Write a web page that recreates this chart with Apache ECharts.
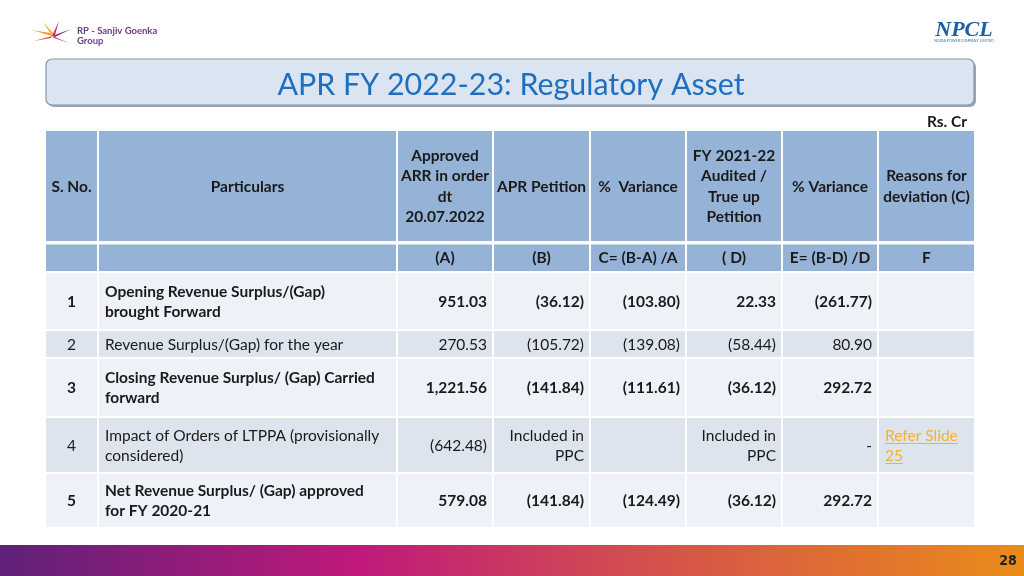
<!DOCTYPE html>
<html><head><meta charset="utf-8">
<script src="https://cdn.jsdelivr.net/npm/echarts@6/dist/echarts.min.js"></script>
<style>html,body{margin:0;padding:0;background:#fff}#c{width:1024px;height:576px}</style>
</head><body><div id="c"></div>
<script>
// ---- data ----
const headerLabels = ["S. No.", "Particulars", "Approved\nARR in order\ndt\n20.07.2022", "APR Petition", "%  Variance", "FY 2021-22\nAudited /\nTrue up\nPetition", "% Variance", "Reasons for\ndeviation (C)"];
const subHeaderLabels = ["", "", "(A)", "(B)", "C= (B-A) /A", "( D)", "E= (B-D) /D", "F"];
const serialNos = ["1", "2", "3", "4", "5"];
const particulars = [
  "Opening Revenue Surplus/(Gap)\nbrought Forward",
  "Revenue Surplus/(Gap) for the year",
  "Closing Revenue Surplus/ (Gap) Carried\nforward",
  "Impact of Orders of LTPPA (provisionally\nconsidered)",
  "Net Revenue Surplus/ (Gap) approved\nfor FY 2020-21"
];
const approvedA = ["951.03", "270.53", "1,221.56", "(642.48)", "579.08"];
const aprPetitionB = ["(36.12)", "(105.72)", "(141.84)", "Included in\nPPC", "(141.84)"];
const varianceC = ["(103.80)", "(139.08)", "(111.61)", "", "(124.49)"];
const trueUpD = ["22.33", "(58.44)", "(36.12)", "Included in\nPPC", "(36.12)"];
const varianceE = ["(261.77)", "80.90", "292.72", "-", "292.72"];
const reasonsF = ["", "", "", "Refer Slide\n25", ""];
const boldRows = [true, false, true, false, true];

// ---- layout (table units) ----
const colEdges = [0, 53, 352, 448, 545, 641, 737, 833, 930];
const rowEdges = [0, 112, 142, 200, 228, 287, 343, 398];
const FONT = 'Lato, "Open Sans", sans-serif';
const FS = 15.5;

const rowsData = [serialNos, particulars, approvedA, aprPetitionB, varianceC, trueUpD, varianceE, reasonsF];
const cells = [];
for (let r = 0; r < 7; r++) for (let c = 0; c < 8; c++) cells.push([c, r]);

function cellText(c, r) {
  if (r === 0) return headerLabels[c];
  if (r === 1) return subHeaderLabels[c];
  return rowsData[c][r - 2];
}
const mctx = document.createElement('canvas').getContext('2d');

function renderItem(params, api) {
  const c = api.value(0), r = api.value(1);
  const p0 = api.coord([colEdges[c], rowEdges[r]]);
  const p1 = api.coord([colEdges[c + 1], rowEdges[r + 1]]);
  const x = p0[0], y = p0[1], w = p1[0] - p0[0], h = p1[1] - p0[1];
  let fill;
  if (r < 2) fill = '#95b3d7';
  else fill = ((r - 2) % 2 === 0) ? '#eef2f8' : '#dde4ee';
  const gapTop = (r === 1) ? 2.5 : 1;
  const children = [{
    type: 'rect',
    shape: { x: x + 1, y: y + gapTop, width: w - 2, height: h - gapTop - 1 },
    style: { fill: fill }
  }];
  const txt = cellText(c, r);
  if (txt) {
    const header = r < 2;
    const bold = header || boldRows[r - 2];
    const font = (bold ? 'bold ' : '') + FS + 'px ' + FONT;
    let align, tx;
    if (header || c === 0) { align = 'center'; tx = x + w / 2; }
    else if (c === 1 || c === 7) { align = 'left'; tx = x + 7; }
    else { align = 'right'; tx = x + w - 6; }
    const link = (c === 7 && !header);
    const fillc = link ? '#f2b233' : '#1a1a1a';
    const cy = y + (h + gapTop - 1) / 2 + 0.5;
    children.push({
      type: 'text',
      style: {
        text: txt, x: tx, y: cy, align: align, verticalAlign: 'middle',
        font: font, fill: fillc, lineHeight: header ? 20.5 : 20
      }
    });
    if (link) {
      mctx.font = font;
      const lines = txt.split('\n');
      const lh = 20, top = cy - lines.length * lh / 2;
      lines.forEach(function (ln, i) {
        const lw = mctx.measureText(ln).width;
        const uy = top + i * lh + lh / 2 + 8;
        children.push({ type: 'line', shape: { x1: tx, y1: uy, x2: tx + lw, y2: uy }, style: { stroke: '#f2b233', lineWidth: 1 } });
      });
    }
  }
  return { type: 'group', children: children };
}

const chart = echarts.init(document.getElementById('c'), null, { renderer: 'canvas' });

// star logo rays
const rays = [
  { pts: [[52, 36], [32, 30], [50, 33]], c: '#f29a2e' },
  { pts: [[52, 36], [34, 41], [51, 38]], c: '#e8502e' },
  { pts: [[52, 36], [43, 22], [54, 34]], c: '#f5b23a' },
  { pts: [[52, 36], [59, 21], [55, 35]], c: '#d9284e' },
  { pts: [[52, 36], [71, 29], [55, 37]], c: '#8a2c7e' },
  { pts: [[52, 36], [69, 43], [54, 38]], c: '#c62a5a' },
  { pts: [[52, 36], [59, 50], [53, 38]], c: '#6a2a7a' },
  { pts: [[52, 36], [45, 50], [51, 38]], c: '#e0402e' }
];

chart.setOption({
  animation: false,
  grid: { left: 45, top: 130, width: 930, height: 398 },
  xAxis: { type: 'value', min: 0, max: 930, show: false },
  yAxis: { type: 'value', min: 0, max: 398, inverse: true, show: false },
  series: [{ type: 'custom', renderItem: renderItem, data: cells, clip: false, silent: true }],
  graphic: [
    // title box
    { type: 'rect', shape: { x: 48, y: 61, width: 928, height: 46, r: 6 }, style: { fill: '#9aa7b6' } },
    { type: 'rect', shape: { x: 46, y: 59, width: 928, height: 46, r: 6 }, style: { fill: '#dbe5f1', stroke: '#8797ad', lineWidth: 1.2 } },
    { type: 'text', style: { text: 'APR FY 2022-23: Regulatory Asset', x: 511, y: 85, align: 'center', verticalAlign: 'middle', font: '30.4px ' + FONT, fill: '#1f6fc0' } },
    { type: 'text', style: { text: 'Rs. Cr', x: 967, y: 122, align: 'right', verticalAlign: 'middle', font: 'bold 15.5px ' + FONT, fill: '#1a1a1a' } },
    // left logo
    ...rays.map(function (r) { return { type: 'polygon', shape: { points: r.pts }, style: { fill: r.c } }; }),
    { type: 'text', style: { text: 'RP - Sanjiv Goenka\nGroup', x: 77, y: 36, align: 'left', verticalAlign: 'middle', font: 'bold 9.5px ' + FONT, fill: '#6b3e7e', lineHeight: 9.5 } },
    // right logo
    { type: 'text', style: { text: 'NPCL', x: 964, y: 30, align: 'center', verticalAlign: 'middle', font: 'italic bold 22px "Liberation Serif", serif', fill: '#1b5fa6' } },
    { type: 'text', style: { text: 'NOIDA POWER COMPANY LIMITED', x: 964, y: 40.5, align: 'center', verticalAlign: 'middle', font: '3.6px ' + FONT, fill: '#3d6fa8' } },
    // bottom bar
    { type: 'rect', shape: { x: 0, y: 545, width: 1024, height: 31 },
      style: { fill: new echarts.graphic.LinearGradient(0, 0, 1, 0, [
        { offset: 0, color: '#5f2178' }, { offset: 0.35, color: '#c0197b' },
        { offset: 0.6, color: '#d24b52' }, { offset: 1, color: '#ea8c18' }]) } },
    { type: 'text', style: { text: '28', x: 1008, y: 561, align: 'center', verticalAlign: 'middle', font: 'bold 14px "DejaVu Sans Condensed", sans-serif', fill: '#222' } }
  ]
});
</script></body></html>
